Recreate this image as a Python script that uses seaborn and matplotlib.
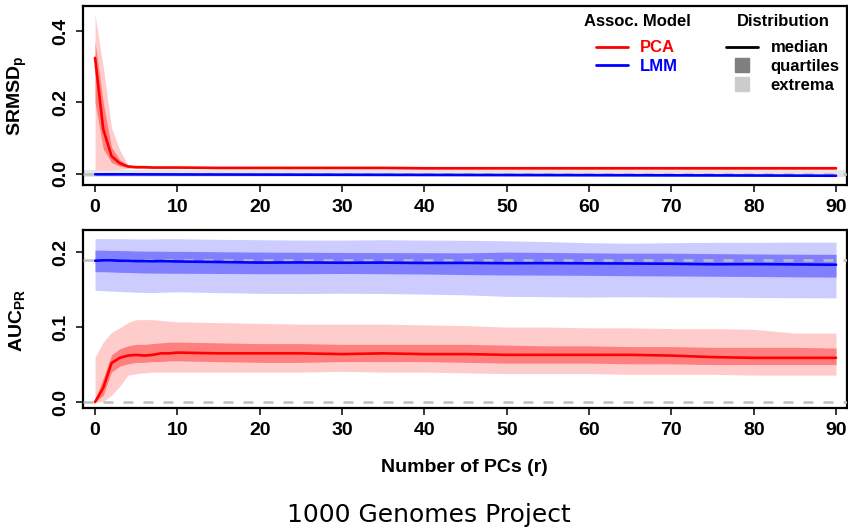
import matplotlib
matplotlib.use("Agg")
import matplotlib.pyplot as plt
import seaborn as sns
import pandas as pd
from matplotlib.lines import Line2D

# ---------------- data ----------------
r = [0, 1, 2, 3, 4, 5, 6, 7, 8, 9, 10, 15, 20, 25, 30, 35, 40, 45, 50, 55, 60, 65, 70, 75, 80, 85, 90]

# SRMSD_p, PCA
pca_srmsd_med = [0.325, 0.125, 0.050, 0.030, 0.021, 0.019, 0.019, 0.018, 0.018, 0.018, 0.018, 0.017, 0.017, 0.017,
                 0.017, 0.017, 0.016, 0.016, 0.016, 0.016, 0.016, 0.016, 0.016, 0.016, 0.016, 0.016, 0.016]
pca_srmsd_q1 = [0.200, 0.070, 0.032, 0.022, 0.018, 0.017, 0.017, 0.016, 0.016, 0.016, 0.016, 0.015, 0.015, 0.015,
                0.015, 0.015, 0.014, 0.014, 0.014, 0.014, 0.014, 0.014, 0.014, 0.014, 0.014, 0.014, 0.014]
pca_srmsd_q3 = [0.370, 0.200, 0.075, 0.040, 0.024, 0.021, 0.021, 0.020, 0.020, 0.020, 0.020, 0.019, 0.019, 0.019,
                0.019, 0.019, 0.018, 0.018, 0.018, 0.018, 0.018, 0.018, 0.018, 0.018, 0.018, 0.018, 0.018]
pca_srmsd_min = [0.012, 0.010, 0.011, 0.013, 0.015, 0.016, 0.016, 0.015, 0.015, 0.015, 0.015, 0.014, 0.014, 0.014,
                 0.014, 0.014, 0.013, 0.013, 0.013, 0.013, 0.013, 0.013, 0.013, 0.013, 0.013, 0.013, 0.013]
pca_srmsd_max = [0.445, 0.300, 0.130, 0.067, 0.026, 0.022, 0.022, 0.021, 0.021, 0.021, 0.021, 0.020, 0.020, 0.020,
                 0.020, 0.020, 0.019, 0.019, 0.019, 0.019, 0.019, 0.019, 0.019, 0.019, 0.019, 0.019, 0.019]

# SRMSD_p, LMM
lmm_srmsd_med = [-0.0010, -0.0010, -0.0010, -0.0010, -0.0010, -0.0011, -0.0012, -0.0012, -0.0013, -0.0013, -0.0014,
                 -0.0016, -0.0018, -0.0020, -0.0022, -0.0024, -0.0026, -0.0028, -0.0030, -0.0032, -0.0034, -0.0036,
                 -0.0038, -0.0040, -0.0043, -0.0046, -0.0050]
lmm_srmsd_q1 = [-0.0018, -0.0018, -0.0018, -0.0018, -0.0018, -0.0019, -0.0020, -0.0020, -0.0021, -0.0021, -0.0022,
                -0.0024, -0.0026, -0.0028, -0.0030, -0.0032, -0.0034, -0.0036, -0.0038, -0.0040, -0.0042, -0.0044,
                -0.0046, -0.0048, -0.0051, -0.0054, -0.0058]
lmm_srmsd_q3 = [-0.0002, -0.0002, -0.0002, -0.0002, -0.0002, -0.0003, -0.0004, -0.0004, -0.0005, -0.0005, -0.0006,
                -0.0008, -0.0010, -0.0012, -0.0014, -0.0016, -0.0018, -0.0020, -0.0022, -0.0024, -0.0026, -0.0028,
                -0.0030, -0.0032, -0.0035, -0.0038, -0.0042]
lmm_srmsd_min = [-0.0030, -0.0030, -0.0030, -0.0030, -0.0030, -0.0031, -0.0032, -0.0032, -0.0033, -0.0033, -0.0034,
                 -0.0036, -0.0038, -0.0040, -0.0042, -0.0044, -0.0046, -0.0048, -0.0050, -0.0052, -0.0054, -0.0056,
                 -0.0058, -0.0060, -0.0063, -0.0066, -0.0070]
lmm_srmsd_max = [0.0010, 0.0010, 0.0010, 0.0010, 0.0010, 0.0009, 0.0008, 0.0008, 0.0007, 0.0007, 0.0006,
                 0.0004, 0.0002, 0.0000, -0.0002, -0.0004, -0.0006, -0.0008, -0.0010, -0.0012, -0.0014, -0.0016,
                 -0.0018, -0.0020, -0.0023, -0.0026, -0.0030]

# AUC_PR, PCA
pca_auc_med = [0.000, 0.019, 0.052, 0.059, 0.062, 0.063, 0.062, 0.063, 0.065, 0.065, 0.066, 0.065, 0.065, 0.065,
               0.064, 0.065, 0.064, 0.064, 0.063, 0.063, 0.063, 0.063, 0.062, 0.060, 0.059, 0.059, 0.059]
pca_auc_q1 = [0.000, 0.009, 0.040, 0.048, 0.051, 0.053, 0.053, 0.054, 0.054, 0.055, 0.055, 0.054, 0.053, 0.053,
              0.054, 0.054, 0.054, 0.053, 0.052, 0.052, 0.052, 0.051, 0.051, 0.050, 0.050, 0.050, 0.050]
pca_auc_q3 = [0.004, 0.032, 0.063, 0.071, 0.075, 0.077, 0.077, 0.078, 0.079, 0.080, 0.080, 0.079, 0.078, 0.078,
              0.077, 0.077, 0.077, 0.077, 0.076, 0.075, 0.075, 0.074, 0.074, 0.073, 0.073, 0.073, 0.072]
pca_auc_min = [0.000, 0.001, 0.009, 0.021, 0.036, 0.038, 0.039, 0.040, 0.040, 0.040, 0.040, 0.040, 0.040, 0.040,
               0.041, 0.040, 0.040, 0.039, 0.038, 0.038, 0.038, 0.037, 0.037, 0.037, 0.036, 0.036, 0.036]
pca_auc_max = [0.060, 0.080, 0.093, 0.099, 0.106, 0.110, 0.110, 0.110, 0.109, 0.108, 0.107, 0.106, 0.105, 0.104,
               0.104, 0.104, 0.103, 0.102, 0.100, 0.100, 0.099, 0.099, 0.098, 0.098, 0.097, 0.092, 0.092]

# AUC_PR, LMM
lmm_auc_med = [0.1885, 0.1890, 0.1890, 0.1885, 0.1885, 0.1880, 0.1880, 0.1878, 0.1880, 0.1878, 0.1875, 0.1868,
               0.1860, 0.1862, 0.1858, 0.1860, 0.1855, 0.1856, 0.1852, 0.1853, 0.1850, 0.1848, 0.1845, 0.1838,
               0.1840, 0.1836, 0.1832]
lmm_auc_q1 = [0.1740, 0.1738, 0.1735, 0.1730, 0.1728, 0.1725, 0.1722, 0.1720, 0.1720, 0.1718, 0.1718, 0.1715,
              0.1712, 0.1712, 0.1715, 0.1712, 0.1708, 0.1700, 0.1695, 0.1693, 0.1690, 0.1685, 0.1682, 0.1678,
              0.1675, 0.1670, 0.1667]
lmm_auc_q3 = [0.2027, 0.2025, 0.2022, 0.2020, 0.2018, 0.2015, 0.2013, 0.2012, 0.2012, 0.2010, 0.2010, 0.2005,
              0.2000, 0.1998, 0.1995, 0.1993, 0.1992, 0.1990, 0.2000, 0.1995, 0.1990, 0.1985, 0.1985, 0.1980,
              0.1975, 0.1972, 0.1970]
lmm_auc_min = [0.1490, 0.1485, 0.1480, 0.1475, 0.1470, 0.1465, 0.1462, 0.1460, 0.1465, 0.1468, 0.1470, 0.1460,
               0.1450, 0.1448, 0.1452, 0.1448, 0.1440, 0.1430, 0.1410, 0.1405, 0.1400, 0.1405, 0.1400, 0.1400,
               0.1395, 0.1392, 0.1390]
lmm_auc_max = [0.2180, 0.2180, 0.2178, 0.2178, 0.2177, 0.2175, 0.2175, 0.2175, 0.2178, 0.2178, 0.2178, 0.2170,
               0.2165, 0.2160, 0.2160, 0.2165, 0.2160, 0.2158, 0.2150, 0.2140, 0.2125, 0.2118, 0.2125, 0.2130,
               0.2130, 0.2133, 0.2133]

srmsd_ref = 0.0          # dashed reference line, top panel
auc_refs = [0.0, 0.1893]  # dashed reference lines, bottom panel
x_ticks = [0, 10, 20, 30, 40, 50, 60, 70, 80, 90]
srmsd_ticks = [0.0, 0.2, 0.4]
auc_ticks = [0.0, 0.1, 0.2]

# ---------------- style ----------------
sns.set_theme(style="ticks")
plt.rcParams.update({
    "font.family": ["Liberation Sans", "DejaVu Sans"],
    "font.weight": "bold",
    "mathtext.fontset": "custom",
    "mathtext.rm": "Liberation Sans:bold",
    "mathtext.it": "Liberation Sans:bold",
    "mathtext.bf": "Liberation Sans:bold",
    "axes.linewidth": 1.6,
    "axes.edgecolor": "black",
    "axes.labelcolor": "black",
    "text.color": "black",
    "xtick.color": "black",
    "ytick.color": "black",
    "xtick.labelcolor": "black",
    "ytick.labelcolor": "black",
})

colors = {"PCA": "red", "LMM": "blue"}
light = {"PCA": "#ffcccc", "LMM": "#ccccff"}
dark = {"PCA": "#ff7f7f", "LMM": "#7f7fff"}

fig = plt.figure(figsize=(8.48, 5.30), dpi=100)
ax1 = fig.add_axes([0.0975, 0.651, 0.901, 0.3377])
ax2 = fig.add_axes([0.0975, 0.230, 0.901, 0.3358])

panels = [
    (ax1, {"PCA": (pca_srmsd_min, pca_srmsd_q1, pca_srmsd_med, pca_srmsd_q3, pca_srmsd_max),
           "LMM": (lmm_srmsd_min, lmm_srmsd_q1, lmm_srmsd_med, lmm_srmsd_q3, lmm_srmsd_max)}),
    (ax2, {"PCA": (pca_auc_min, pca_auc_q1, pca_auc_med, pca_auc_q3, pca_auc_max),
           "LMM": (lmm_auc_min, lmm_auc_q1, lmm_auc_med, lmm_auc_q3, lmm_auc_max)}),
]

for ax, series in panels:
    rows = []
    for model, (mn, q1, md, q3, mx) in series.items():
        ax.fill_between(r, mn, mx, color=light[model], lw=0, zorder=1)
        ax.fill_between(r, q1, q3, color=dark[model], lw=0, zorder=2)
        for xi, yi in zip(r, md):
            rows.append({"r": xi, "value": yi, "model": model})
    df = pd.DataFrame(rows)
    if ax is ax1:
        ax.axhspan(-0.0092, 0.0112, color="#e6e6e6", lw=0, zorder=0)
        refs = [srmsd_ref]
    else:
        refs = auc_refs
    for yv in refs:
        ax.axhline(yv, color="#bebebe", lw=1.8, dashes=(4, 4), zorder=3)
    sns.lineplot(data=df, x="r", y="value", hue="model", palette=colors, hue_order=["LMM", "PCA"],
                 ax=ax, legend=False, lw=1.9, errorbar=None, zorder=4)
    ax.set_xlim(-1.5, 91.3)
    ax.set_xticks(x_ticks)
    ax.set_xticklabels([str(t) for t in x_ticks])
    ax.set_xlabel("")
    ax.set_ylabel("")
    ax.tick_params(axis="both", direction="out", length=5, width=1.1, labelsize=14, pad=5,
                   colors="black", labelcolor="black")
    for s in ax.spines.values():
        s.set_visible(True)
        s.set_linewidth(1.6)
        s.set_color("black")
    ax.set_facecolor("white")

ax1.set_ylim(-0.0308, 0.47)
ax1.set_yticks(srmsd_ticks)
ax1.set_yticklabels([f"{t:.1f}" for t in srmsd_ticks], rotation=90, va="center")
ax2.set_ylim(-0.008, 0.2293)
ax2.set_yticks(auc_ticks)
ax2.set_yticklabels([f"{t:.1f}" for t in auc_ticks], rotation=90, va="center")

fig.text(17 / 848, 1 - 96 / 530, r"SRMSD$_\mathrm{p}$", rotation=90, ha="center", va="center",
         fontsize=14, fontweight="bold", color="black")
fig.text(17 / 848, 1 - 320 / 530, r"AUC$_\mathrm{PR}$", rotation=90, ha="center", va="center",
         fontsize=14, fontweight="bold", color="black")
fig.text(464.7 / 848, 1 - 468 / 530, "Number of PCs (r)", ha="center", va="center",
         fontsize=14, fontweight="bold", color="black")
fig.text(429 / 848, 1 - 515 / 530, "1000 Genomes Project", ha="center", va="center",
         fontsize=18, fontweight="normal", family="DejaVu Sans", color="black")

# legends
h1 = [Line2D([], [], color="red", lw=2), Line2D([], [], color="blue", lw=2)]
leg1 = ax1.legend(h1, ["PCA", "LMM"], title="Assoc. Model", loc="upper center",
                  bbox_to_anchor=(637 / 848, 1 - 6 / 530), bbox_transform=fig.transFigure,
                  frameon=False, borderpad=0, handlelength=1.9, handletextpad=0.75,
                  labelspacing=0.22, prop={"weight": "bold", "size": 12},
                  title_fontproperties={"weight": "bold", "size": 12}, labelcolor=["red", "blue"])
leg1._legend_box.sep = 8
leg1.get_title().set_color("black")
ax1.add_artist(leg1)
h2 = [Line2D([], [], color="black", lw=2),
      Line2D([], [], color="#7f7f7f", marker="s", ls="none", markersize=10),
      Line2D([], [], color="#cccccc", marker="s", ls="none", markersize=10)]
leg2 = ax1.legend(h2, ["median", "quartiles", "extrema"], title="Distribution", loc="upper center",
                  bbox_to_anchor=(783 / 848, 1 - 6 / 530), bbox_transform=fig.transFigure,
                  frameon=False, borderpad=0, handlelength=1.9, handletextpad=0.75,
                  labelspacing=0.22, prop={"weight": "bold", "size": 12},
                  title_fontproperties={"weight": "bold", "size": 12}, labelcolor="black")
leg2._legend_box.sep = 8
leg2.get_title().set_color("black")

fig.savefig("out.png", dpi=100)
